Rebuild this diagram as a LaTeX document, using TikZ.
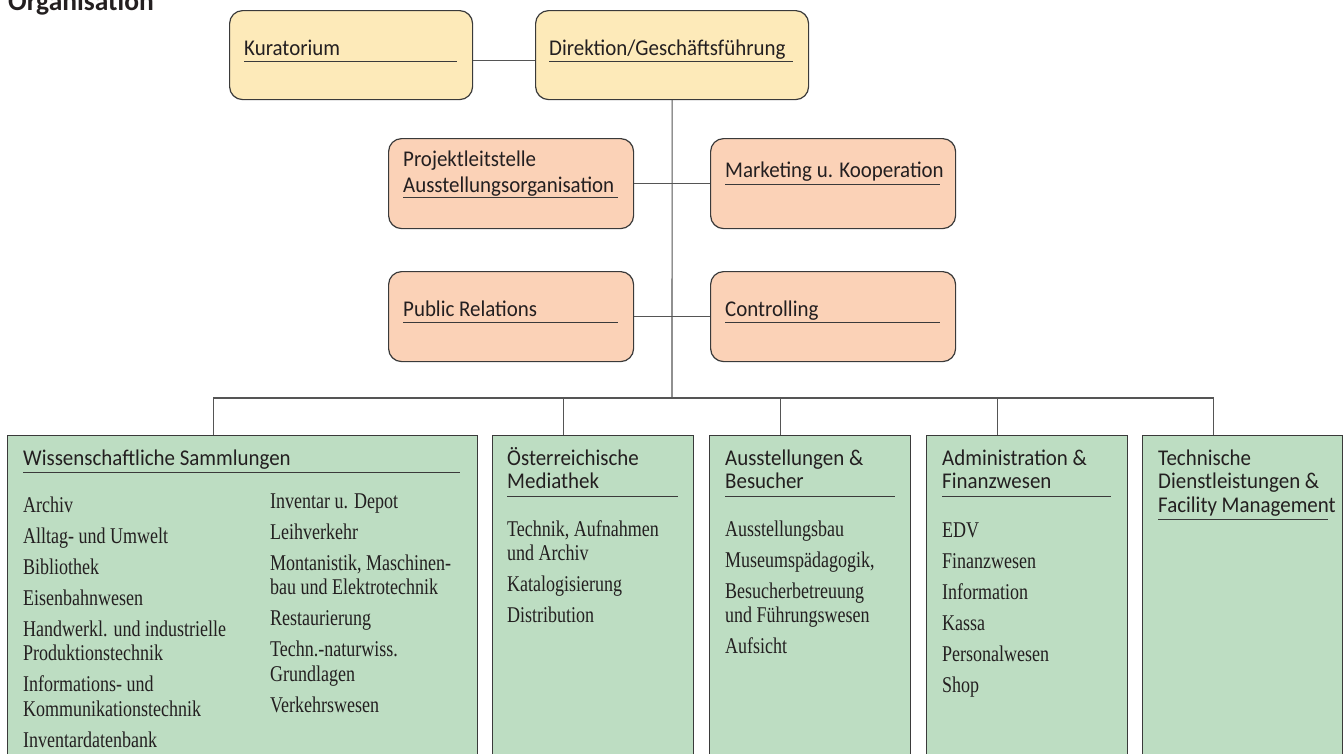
\documentclass[tikz,border=0pt]{standalone}
\usepackage{fontspec}
\newfontfamily\hdf[FakeStretch=0.93]{Carlito}
\newfontfamily\ttf{Carlito}
\newfontfamily\itf[FakeStretch=0.8]{Liberation Serif}
\definecolor{yel}{HTML}{FDEAB9}
\definecolor{pch}{HTML}{FBD2B7}
\definecolor{grn}{HTML}{BDDDC2}
\definecolor{bordc}{HTML}{3A3A3A}
\definecolor{linec}{HTML}{555555}
\definecolor{txtc}{HTML}{231F20}
\newcommand{\ml}[1]{\begin{tabular}[t]{@{}l@{}}#1\end{tabular}}
\begin{document}
\begin{tikzpicture}[x=1pt,y=-1pt,
  rbox/.style={draw=bordc, line width=1.2pt, rounded corners=13pt, anchor=north west, inner sep=0pt},
  ybox/.style={rbox, fill=yel, minimum height=89pt},
  pbox/.style={rbox, fill=pch, minimum width=245pt, minimum height=90pt},
  gbox/.style={draw=bordc, line width=1.2pt, fill=grn, anchor=north west, inner sep=0pt, minimum height=340pt},
  conn/.style={draw=linec, line width=1.1pt},
  uline/.style={draw=bordc, line width=0.9pt},
  hd/.style={anchor=base west, inner sep=0pt, font=\hdf\fontsize{22.5}{23.5}\selectfont, text=txtc},
  it/.style={anchor=base west, inner sep=0pt, font=\itf\fontsize{22.5}{24.5}\selectfont, text=txtc},
  ttl/.style={anchor=base west, inner sep=0pt, font=\ttf\bfseries\fontsize{27.5}{30}\selectfont, text=txtc}]
\useasboundingbox (0,0) rectangle (1343,753);

% title
\node[ttl] (title) at (8,10) {Organisation};

% top boxes
\node[ybox, minimum width=243pt] (kur) at (229,10) {};
\node[ybox, minimum width=273pt] (dir) at (535,10) {};
\node[pbox] (proj) at (388,138) {};
\node[pbox] (mark) at (710,138) {};
\node[pbox] (pr) at (388,271) {};
\node[pbox] (ctrl) at (710,271) {};

% bottom boxes
\node[gbox, minimum width=470pt] (b1) at (7,435) {};
\node[gbox, minimum width=201pt] (b2) at (492,435) {};
\node[gbox, minimum width=201pt] (b3) at (709,435) {};
\node[gbox, minimum width=201pt] (b4) at (926,435) {};
\node[gbox, minimum width=200pt] (b5) at (1142,435) {};

% connectors
\coordinate (bus) at (672,398);
\draw[conn] ([yshift=-5.5pt]kur.east) -- ([yshift=-5.5pt]dir.west);
\draw[conn] (dir.south) -- (bus);
\draw[conn] (proj.east) -- (mark.west);
\draw[conn] (pr.east) -- (ctrl.west);
\draw[conn] ([xshift=-29.5pt]b1.north) |- (bus) -| ([xshift=-29.5pt]b5.north);
\foreach \b in {b2,b3,b4}{
  \draw[conn] ([xshift=-29.5pt]\b.north) -- ([xshift=-29.5pt]\b.north |- bus);
}

% top texts
\node[hd] (tkur) at (244,55) {Kuratorium};
\draw[uline] (244,61) -- (457,61);
\node[hd] (tdir) at (549,55) {Direktion/Geschäftsführung};
\draw[uline] (549,61) -- (793,61);
\node[hd] (tproj) at (403,166) {\ml{Projektleitstelle\\[2.5pt]Ausstellungsorganisation}};
\draw[uline] (403,197) -- (618,197);
\node[hd] (tmark) at (725,177) {Marketing u. Kooperation};
\draw[uline] (725,184) -- (940,184);
\node[hd] (tpr) at (403,316) {Public Relations};
\draw[uline] (403,322) -- (618,322);
\node[hd] (tctrl) at (725,316) {Controlling};
\draw[uline] (725,322) -- (940,322);

% bottom headers
\node[hd] (h1) at (23,465) {Wissenschaftliche Sammlungen};
\draw[uline] (23,472) -- (460,472);
\node[hd] (h2) at (507,465) {\ml{Österreichische\\Mediathek}};
\draw[uline] (507,496) -- (678,496);
\node[hd] (h3) at (725,465) {\ml{Ausstellungen \&\\Besucher}};
\draw[uline] (725,496) -- (895,496);
\node[hd] (h4) at (942,465) {\ml{Administration \&\\Finanzwesen}};
\draw[uline] (942,496) -- (1111,496);
\node[hd] (h5) at (1158,465) {\ml{Technische\\Dienstleistungen \&\\Facility Management}};
\draw[uline] (1158,519) -- (1328,519);

% items
\node[it] (i1a) at (23,512) {\ml{Archiv\\[6.5pt]Alltag- und Umwelt\\[6.5pt]Bibliothek\\[6.5pt]Eisenbahnwesen\\[6.5pt]Handwerkl. und industrielle\\Produktionstechnik\\[6.5pt]Informations- und\\Kommunikationstechnik\\[6.5pt]Inventardatenbank}};
\node[it] (i1b) at (270,508) {\ml{Inventar u. Depot\\[6.5pt]Leihverkehr\\[6.5pt]Montanistik, Maschinen-\\bau und Elektrotechnik\\[6.5pt]Restaurierung\\[6.5pt]Techn.-naturwiss.\\Grundlagen\\[6.5pt]Verkehrswesen}};
\node[it] (i2) at (507,536) {\ml{Technik, Aufnahmen\\und Archiv\\[6.5pt]Katalogisierung\\[6.5pt]Distribution}};
\node[it] (i3) at (725,536) {\ml{Ausstellungsbau\\[6.5pt]Museumspädagogik,\\[6.5pt]Besucherbetreuung\\und Führungswesen\\[6.5pt]Aufsicht}};
\node[it] (i4) at (942,537) {\ml{EDV\\[6.5pt]Finanzwesen\\[6.5pt]Information\\[6.5pt]Kassa\\[6.5pt]Personalwesen\\[6.5pt]Shop}};
\end{tikzpicture}
\end{document}
